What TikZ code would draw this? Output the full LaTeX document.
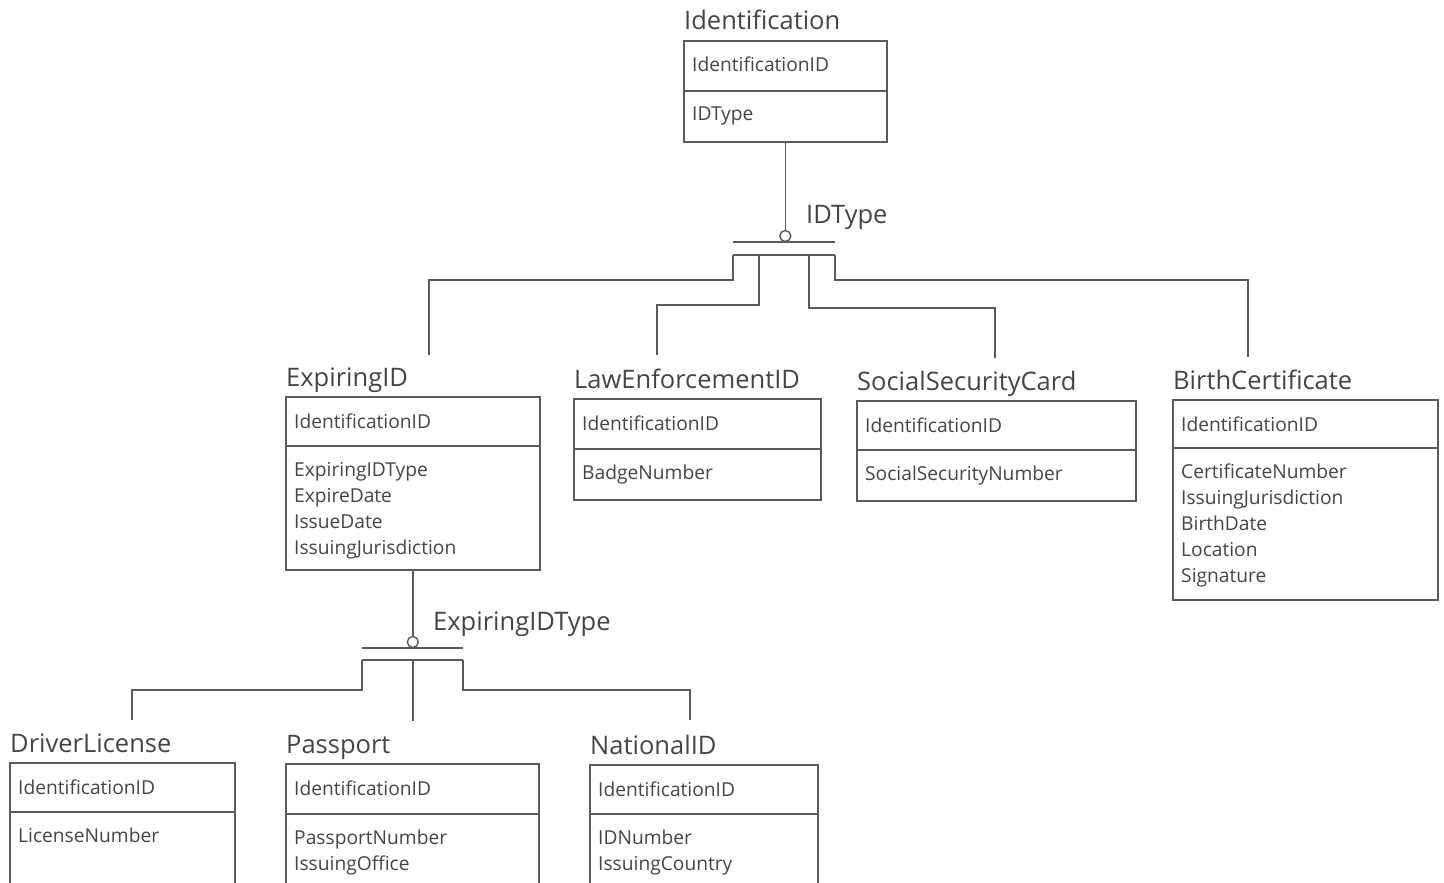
\documentclass[tikz,border=0pt]{standalone}
\usepackage{fontspec}
\setmainfont{Open Sans}
\definecolor{inkline}{HTML}{5A5A5A}
\definecolor{inktext}{HTML}{454545}
\tikzset{
  entbox/.style={draw=inkline, line width=1.6pt, rectangle, inner sep=0pt},
  entline/.style={draw=inkline, line width=1.6pt},
  conn/.style={draw=inkline, line width=1.6pt},
  catcirc/.style={circle, draw=inkline, line width=1.4pt, fill=white, minimum size=11pt, inner sep=0pt},
  ttl/.style={anchor=base west, inner sep=0pt, text=inktext, font=\fontsize{25.5}{30}\selectfont},
  attr/.style={anchor=base west, inner sep=0pt, text=inktext, font=\fontsize{19.2}{23}\selectfont},
}
% entity box: name, left, top, right, divider, bottom, title, key attribute, other attributes
\newcommand\entity[9]{%
  \node[entbox, anchor=north west, minimum width={#4-#2}, minimum height={#6-#3}] (#1) at (#2,#3) {};
  \draw[entline] (#2,#5) -- (#4,#5);
  \node[ttl] (#1-t) at (#2+1,#3-10) {#7};
  \node[attr] (#1-k) at (#2+9,#3+32) {#8};
  \foreach \t [count=\i from 0] in {#9} {\node[attr] (#1-a\i) at (#2+9,#5+30+26*\i) {\t};}
}
\begin{document}
\begin{tikzpicture}[x=1pt,y=-1pt]
\useasboundingbox (0,0) rectangle (1444,883);
\clip (0,0) rectangle (1444,883);
\fill[white] (0,0) rectangle (1444,883);

% supertype
\entity{ident}{683}{40}{886}{91}{141}{Identification}{IdentificationID}{IDType}

% first level subtypes
\entity{expid}{285}{396}{539}{446}{569}{ExpiringID}{IdentificationID}{ExpiringIDType,ExpireDate,IssueDate,IssuingJurisdiction}
\entity{lawid}{573}{398}{820}{449}{499}{LawEnforcementID}{IdentificationID}{BadgeNumber}
\entity{sscard}{856}{400}{1135}{450}{500}{SocialSecurityCard}{IdentificationID}{SocialSecurityNumber}
\entity{birth}{1172}{399}{1437}{448}{599}{BirthCertificate}{IdentificationID}{CertificateNumber,IssuingJurisdiction,BirthDate,Location,Signature}

% second level subtypes
\entity{driver}{9}{762}{234}{812}{920}{DriverLicense}{IdentificationID}{LicenseNumber}
\entity{passport}{285}{763}{538}{814}{920}{Passport}{IdentificationID}{PassportNumber,IssuingOffice}
\entity{natid}{589}{764}{817}{814}{920}{NationalID}{IdentificationID}{IDNumber,IssuingCountry}

% category on IDType
\node[catcirc] (cat1) at (ident.south |- 0,236) {};
\node[ttl] (cat1-l) at (806,223) {IDType};
\coordinate (b1l) at (733,242);
\coordinate (b1r) at (835,242);
\coordinate (b2l) at (733,255);
\coordinate (b2r) at (835,255);
\coordinate (j1) at (759,255);
\coordinate (j2) at (809,255);
\coordinate (e1) at (429,355);
\coordinate (e2) at (657,355);
\coordinate (e3) at (995,358);
\coordinate (e4) at (1248,357);
\draw[conn] (ident.south) -- (cat1.north);
\draw[conn] (b1l) -- (b1r);
\draw[conn] (b2l) -- (b2r);
\draw[conn] (b2l) -- ++(0,25) -| (e1);
\draw[conn] (j1) -- ++(0,50) -| (e2);
\draw[conn] (j2) -- ++(0,53) -| (e3);
\draw[conn] (b2r) -- ++(0,25) -| (e4);

% category on ExpiringIDType
\node[catcirc] (cat2) at (expid.south |- 0,642) {};
\node[ttl] (cat2-l) at (433,630) {ExpiringIDType};
\coordinate (c1l) at (362,648);
\coordinate (c1r) at (463,648);
\coordinate (c2l) at (362,660);
\coordinate (c2m) at (expid.south |- 0,660);
\coordinate (c2r) at (463,660);
\coordinate (f1) at (132,720);
\coordinate (f2) at (expid.south |- 0,721);
\coordinate (f3) at (690,720);
\draw[conn] (expid.south) -- (cat2.north);
\draw[conn] (c1l) -- (c1r);
\draw[conn] (c2l) -- (c2r);
\draw[conn] (c2l) -- ++(0,30) -| (f1);
\draw[conn] (c2m) -- (f2);
\draw[conn] (c2r) -- ++(0,30) -| (f3);
\end{tikzpicture}
\end{document}
